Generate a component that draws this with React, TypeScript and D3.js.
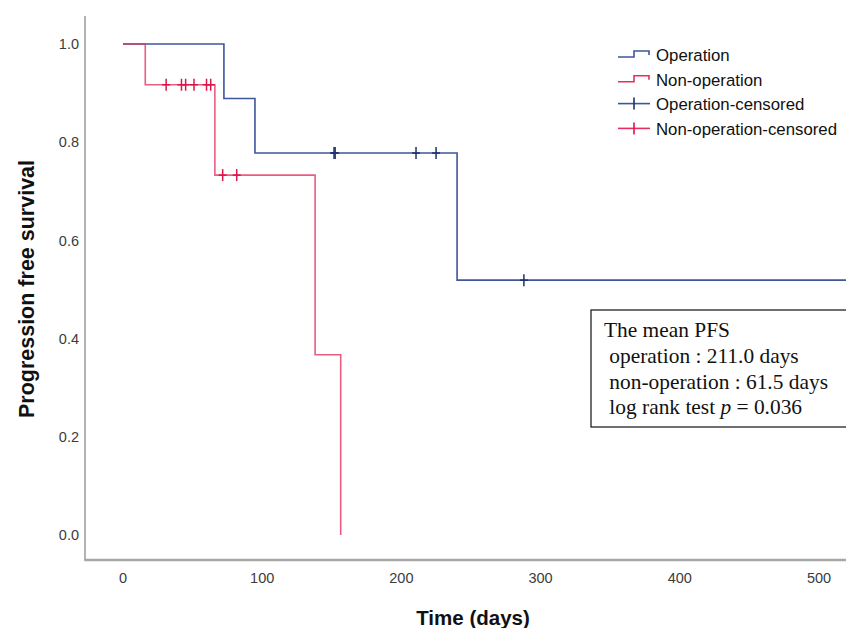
import React from "react";
import * as d3 from "d3";

// ---- data ----
const opTimes = [0, 72.5, 94.8, 240, 520];
const opSurv = [1.0, 0.889, 0.778, 0.519, 0.519];
const opCensored = [151.6, 152.4, 210.5, 224.9, 288];

const nonTimes = [0, 16, 66, 138, 156.4];
const nonSurv = [1.0, 0.917, 0.733, 0.367, 0.0];
const nonCensored = [31, 42, 45, 51, 60, 63, 71.6, 81.7];

const xTicks = [0, 100, 200, 300, 400, 500];
const yTicks = [0.0, 0.2, 0.4, 0.6, 0.8, 1.0];

const legendLabels = ["Operation", "Non-operation", "Operation-censored", "Non-operation-censored"];
const boxLines = ["The mean PFS", " operation : 211.0 days", " non-operation : 61.5 days"];

const W = 846;
const H = 628;

const BLUE = "#3f559c";
const BLUE_DARK = "#1d2f70";
const RED = "#e3305e";
const RED_DARK = "#dc1448";

function survAt(times: number[], surv: number[], t: number) {
  let s = surv[0];
  for (let i = 0; i < times.length; i++) if (times[i] <= t) s = surv[i];
  return s;
}

export default function App() {
  const x = d3.scaleLinear().domain([0, 500]).range([123, 819]);
  const y = d3.scaleLinear().domain([0, 1]).range([535, 44]);
  const plotLeft = 85;
  const plotBottom = 560;
  const plotTop = 16;

  const line = d3
    .line<[number, number]>()
    .x((d) => x(d[0]))
    .y((d) => y(d[1]))
    .curve(d3.curveStepAfter);

  const opPts = opTimes.map((t, i) => [t, opSurv[i]] as [number, number]);
  const nonPts = nonTimes.map((t, i) => [t, nonSurv[i]] as [number, number]);

  const legendY0 = 55;
  const legendDy = 24.8;

  return (
    <svg
      width={W}
      height={H}
      style={{ position: "absolute", left: 0, top: 0, background: "#fff" }}
      fontFamily="'Liberation Sans', Arial, sans-serif"
    >
      <rect x={0} y={0} width={W} height={H} fill="#fff" />
      {/* axes */}
      <line x1={plotLeft} x2={plotLeft} y1={plotTop} y2={plotBottom} stroke="#9a9a9a" strokeWidth={1.5} />
      <line x1={plotLeft - 0.75} x2={W} y1={plotBottom} y2={plotBottom} stroke="#a6a6a6" strokeWidth={2.5} />

      {yTicks.map((t) => (
        <text key={"y" + t} x={79} y={y(t)} dy="0.36em" textAnchor="end" fontSize={14.5} fill="#3c3c3c">
          {t.toFixed(1)}
        </text>
      ))}
      {xTicks.map((t) => (
        <text key={"x" + t} x={x(t)} y={583} textAnchor="middle" fontSize={14.5} fill="#3c3c3c">
          {t}
        </text>
      ))}

      {/* axis titles */}
      <text x={473} y={625} textAnchor="middle" fontSize={20.5} fontWeight="bold" fill="#111">
        Time (days)
      </text>
      <text
        transform={`translate(34, 289) rotate(-90)`}
        textAnchor="middle"
        fontSize={21.5}
        fontWeight="bold"
        fill="#111"
      >
        Progression free survival
      </text>

      {/* curves */}
      <path d={line(opPts) || ""} fill="none" stroke={BLUE} strokeWidth={1.6} />
      <path d={line(nonPts) || ""} fill="none" stroke={RED} strokeOpacity={0.78} strokeWidth={1.6} />

      {/* censor marks */}
      {opCensored.map((t, i) => {
        const cx = x(t);
        const cy = y(survAt(opTimes, opSurv, t));
        return (
          <g key={"oc" + i} stroke={BLUE_DARK} strokeWidth={1.5}>
            <line x1={cx} x2={cx} y1={cy - 6} y2={cy + 6} />
            <line x1={cx - 4} x2={cx + 4} y1={cy} y2={cy} />
          </g>
        );
      })}
      {nonCensored.map((t, i) => {
        const cx = x(t);
        const cy = y(survAt(nonTimes, nonSurv, t));
        return (
          <g key={"nc" + i} stroke={RED_DARK} strokeWidth={1.5}>
            <line x1={cx} x2={cx} y1={cy - 6} y2={cy + 6} />
            <line x1={cx - 4} x2={cx + 4} y1={cy} y2={cy} />
          </g>
        );
      })}

      {/* legend */}
      {legendLabels.map((lab, i) => {
        const ly = legendY0 + i * legendDy;
        const col = i % 2 === 0 ? BLUE : RED;
        const dark = i % 2 === 0 ? BLUE_DARK : RED_DARK;
        return (
          <g key={"lg" + i}>
            {i < 2 ? (
              <path
                d={`M618,${ly + 2} H634 V${ly - 4} H649 V${ly}`}
                fill="none"
                stroke={col}
                strokeWidth={1.6}
              />
            ) : (
              <g>
                <line x1={618} x2={650} y1={ly - 1} y2={ly - 1} stroke={col} strokeWidth={1.6} />
                <line x1={634} x2={634} y1={ly - 7} y2={ly + 5} stroke={dark} strokeWidth={1.6} />
              </g>
            )}
            <text x={656} y={ly} dy="0.35em" fontSize={16.8} fill="#111">
              {lab}
            </text>
          </g>
        );
      })}

      {/* annotation box */}
      <rect x={591} y={310} width={300} height={117} fill="#fff" stroke="#222" strokeWidth={1.3} />
      <g fontFamily="'Liberation Serif', 'Times New Roman', serif" fontSize={21.4} fill="#111">
        {boxLines.map((l, i) => (
          <text key={"bl" + i} x={604} y={337 + i * 25.8} style={{ whiteSpace: "pre" }}>
            {l}
          </text>
        ))}
        <text x={604} y={337 + 3 * 25.8} style={{ whiteSpace: "pre" }}>
          {" log rank test "}
          <tspan fontStyle="italic">p</tspan>
          {" = 0.036"}
        </text>
      </g>
    </svg>
  );
}
